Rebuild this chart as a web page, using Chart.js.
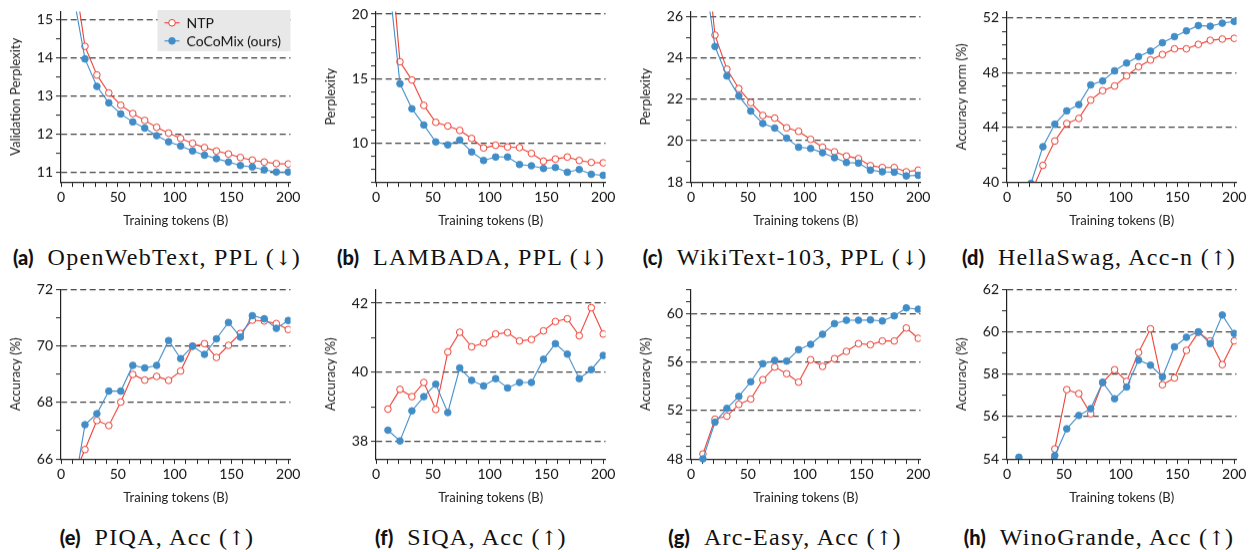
<!DOCTYPE html>
<html>
<head>
<meta charset="utf-8">
<script src="https://cdn.jsdelivr.net/npm/chart.js@4.4.1/dist/chart.umd.min.js"></script>
<style>
  body { margin: 0; background: #fff; width: 1256px; height: 552px; overflow: hidden; position: relative; }
  .plot { position: absolute; width: 302px; height: 229.5px; }
  .cap { position: absolute; width: 314px; text-align: center; line-height: 26px;
         font-family: "Liberation Serif", "DejaVu Serif", serif; font-size: 24px; letter-spacing: 1.3px;
         color: #111; white-space: nowrap; }
  .cap .arr { font-family: "DejaVu Serif", serif; font-size: 20px; letter-spacing: 0; }
  .cap .lab { font-family: Lato, sans-serif; font-weight: 900; font-size: 20px; letter-spacing: 0; margin-right: 14px; }
</style>
</head>
<body>
<script>
// checkpoints (billions of training tokens)
const tokens = [10.5, 21.1, 31.6, 42.1, 52.6, 63.2, 73.7, 84.2, 94.7, 105.3, 115.8, 126.3, 136.8, 147.4, 157.9, 168.4, 178.9, 189.5, 200];

// (a) OpenWebText validation perplexity
const owtNTP     = [16.4, 14.29, 13.54, 13.07, 12.75, 12.53, 12.35, 12.17, 12.02, 11.88, 11.75, 11.64, 11.55, 11.47, 11.38, 11.31, 11.26, 11.22, 11.21];
const owtCoCoMix = [15.7, 13.96, 13.24, 12.81, 12.52, 12.31, 12.15, 11.95, 11.79, 11.68, 11.55, 11.44, 11.35, 11.26, 11.17, 11.13, 11.06, 11.00, 11.00];
// (b) LAMBADA perplexity
const lambadaNTP     = [27.1, 16.31, 14.90, 12.93, 11.62, 11.33, 10.99, 10.37, 9.63, 9.84, 9.71, 9.66, 9.21, 8.61, 8.77, 8.93, 8.66, 8.51, 8.48];
const lambadaCoCoMix = [23.3, 14.61, 12.67, 11.41, 10.10, 9.87, 10.24, 9.32, 8.66, 8.93, 8.93, 8.35, 8.25, 8.04, 8.12, 7.75, 7.96, 7.59, 7.51];
// (c) WikiText-103 perplexity
const wikiNTP     = [30.8, 25.11, 23.46, 22.52, 21.84, 21.22, 21.09, 20.62, 20.45, 20.06, 19.68, 19.46, 19.25, 19.13, 18.79, 18.70, 18.70, 18.49, 18.57];
const wikiCoCoMix = [28.6, 24.56, 23.13, 22.16, 21.43, 20.83, 20.61, 20.12, 19.68, 19.62, 19.41, 19.17, 18.94, 18.91, 18.57, 18.49, 18.47, 18.29, 18.32];
// (d) HellaSwag normalized accuracy
const hellaNTP     = [36.5, 39.2, 41.21, 42.99, 44.27, 44.64, 45.98, 46.67, 47.01, 47.75, 48.42, 48.91, 49.31, 49.73, 49.73, 50.05, 50.35, 50.44, 50.49];
const hellaCoCoMix = [37.5, 39.9, 42.57, 44.22, 45.19, 45.65, 47.09, 47.38, 48.12, 48.69, 49.16, 49.56, 50.17, 50.62, 51.04, 51.43, 51.38, 51.60, 51.73];
// (e) PIQA accuracy
const piqaNTP     = [65.35, 66.33, 67.36, 67.18, 68.01, 68.99, 68.79, 68.92, 68.78, 69.11, 69.99, 70.08, 69.59, 70.02, 70.44, 70.91, 70.88, 70.79, 70.58];
const piqaCoCoMix = [64.7, 67.21, 67.60, 68.40, 68.40, 69.31, 69.22, 69.31, 70.19, 69.55, 69.99, 69.70, 70.25, 70.83, 70.31, 71.07, 70.96, 70.62, 70.90];
// (f) SIQA accuracy
const siqaNTP     = [38.94, 39.51, 39.30, 39.71, 38.93, 40.59, 41.16, 40.74, 40.85, 41.11, 41.15, 40.91, 40.95, 41.20, 41.47, 41.55, 41.06, 41.87, 41.11];
const siqaCoCoMix = [38.33, 38.02, 38.89, 39.30, 39.66, 38.84, 40.13, 39.77, 39.61, 39.82, 39.55, 39.71, 39.71, 40.38, 40.83, 40.53, 39.82, 40.08, 40.49];
// (g) Arc-Easy accuracy
const arcNTP     = [48.41, 51.28, 51.53, 52.50, 52.94, 54.54, 55.59, 55.03, 54.34, 56.19, 55.64, 56.28, 56.88, 57.52, 57.43, 57.74, 57.74, 58.81, 57.96];
const arcCoCoMix = [48.0, 51.03, 52.17, 53.16, 54.37, 55.86, 56.14, 56.08, 57.02, 57.46, 58.29, 59.17, 59.45, 59.45, 59.48, 59.39, 59.81, 60.47, 60.36];
// (h) WinoGrande accuracy
const winoNTP     = [53.2, 53.0, 52.85, 54.47, 57.27, 57.08, 56.13, 57.60, 58.21, 57.66, 59.02, 60.14, 57.50, 57.82, 59.12, 59.97, 59.57, 58.45, 59.57];
const winoCoCoMix = [54.08, 53.0, 52.8, 54.16, 55.42, 56.05, 56.37, 57.62, 56.84, 57.39, 58.66, 58.42, 57.87, 59.29, 59.74, 60.00, 59.44, 60.79, 59.92];

const RED = '#ec3f33';
const BLUE = '#418dc8';

const panels = [
  { tag: '(a)', caption: 'OpenWebText, PPL', arrow: '↓', ytitle: 'Validation Perplexity', ntp: owtNTP, cocomix: owtCoCoMix,
    min: 10.74, max: 15.2, minor: 0.5, major: 1, col: 0, row: 0, padTop: 11.5, legend: true },
  { tag: '(b)', caption: 'LAMBADA, PPL', arrow: '↓', ytitle: 'Perplexity', ntp: lambadaNTP, cocomix: lambadaCoCoMix,
    min: 7, max: 20.2, minor: 1, major: 5, col: 1, row: 0, padTop: 11.5 },
  { tag: '(c)', caption: 'WikiText-103, PPL', arrow: '↓', ytitle: 'Perplexity', ntp: wikiNTP, cocomix: wikiCoCoMix,
    min: 18, max: 26.25, minor: 1, major: 2, col: 2, row: 0, padTop: 11.5 },
  { tag: '(d)', caption: 'HellaSwag, Acc-n', arrow: '↑', ytitle: 'Accuracy norm (%)', ntp: hellaNTP, cocomix: hellaCoCoMix,
    min: 40, max: 52.45, minor: 1, major: 4, col: 3, row: 0, padTop: 11.5 },
  { tag: '(e)', caption: 'PIQA, Acc', arrow: '↑', ytitle: 'Accuracy (%)', ntp: piqaNTP, cocomix: piqaCoCoMix,
    min: 66, max: 72, minor: 1, major: 2, col: 0, row: 1, padTop: 12.3 },
  { tag: '(f)', caption: 'SIQA, Acc', arrow: '↑', ytitle: 'Accuracy (%)', ntp: siqaNTP, cocomix: siqaCoCoMix,
    min: 37.5, max: 42.4, minor: 1, major: 2, col: 1, row: 1, padTop: 12.3 },
  { tag: '(g)', caption: 'Arc-Easy, Acc', arrow: '↑', ytitle: 'Accuracy (%)', ntp: arcNTP, cocomix: arcCoCoMix,
    min: 48, max: 62, minor: 1, major: 4, col: 2, row: 1, padTop: 12.3, clipBottom: 4 },
  { tag: '(h)', caption: 'WinoGrande, Acc', arrow: '↑', ytitle: 'Accuracy (%)', ntp: winoNTP, cocomix: winoCoCoMix,
    min: 54, max: 62, minor: 1, major: 2, col: 3, row: 1, padTop: 12.3 }
];

const plotLeft = [0, 315, 630, 946];
const plotTop = [0, 277];
const capCenter = [157, 471, 785, 1099];
const capTop = [244, 524];

const tickFont = { family: 'Lato', size: 14 };
const titleFont = { family: 'Lato', size: 13 };
const onStep = (v, s) => Math.abs(v / s - Math.round(v / s)) < 1e-6;

// grey legend box drawn inside the plot area (first panel only)
const insideLegend = {
  id: 'insideLegend',
  afterDatasetsDraw(chart) {
    const { ctx, chartArea } = chart;
    const w = 133, h = 41;
    const x0 = chartArea.right - w, y0 = chartArea.top - 1.5;
    ctx.save();
    ctx.fillStyle = '#e8e8e8';
    ctx.fillRect(x0, y0, w, h);
    chart.data.datasets.forEach((ds, i) => {
      const y = y0 + 12.7 + i * 18;
      ctx.strokeStyle = ds.borderColor;
      ctx.lineWidth = ds.borderWidth;
      ctx.beginPath(); ctx.moveTo(x0 + 7, y); ctx.lineTo(x0 + 22, y); ctx.stroke();
      ctx.beginPath(); ctx.arc(x0 + 14.5, y, ds.pointRadius, 0, Math.PI * 2);
      ctx.fillStyle = ds.pointBackgroundColor; ctx.fill();
      ctx.lineWidth = ds.pointBorderWidth; ctx.stroke();
      ctx.fillStyle = '#111';
      ctx.font = '14px Lato';
      ctx.textBaseline = 'middle';
      ctx.fillText(ds.label, x0 + 29, y + 0.5);
    });
    ctx.restore();
  }
};

const toPoints = vals => tokens.map((x, i) => ({ x, y: vals[i] }));

panels.forEach(p => {
  const wrap = document.createElement('div');
  wrap.className = 'plot';
  wrap.style.left = plotLeft[p.col] + 'px';
  wrap.style.top = plotTop[p.row] + 'px';
  const canvas = document.createElement('canvas');
  wrap.appendChild(canvas);
  document.body.appendChild(wrap);

  const cap = document.createElement('div');
  cap.className = 'cap';
  cap.style.left = (capCenter[p.col] - 157) + 'px';
  cap.style.top = capTop[p.row] + 'px';
  cap.innerHTML = '<span class="lab">' + p.tag + '</span>' + p.caption + ' (<span class="arr">' + p.arrow + '</span>)';
  document.body.appendChild(cap);

  const clip = { left: 0, top: 0, right: 0, bottom: p.clipBottom || 0 };

  new Chart(canvas, {
    type: 'line',
    data: {
      datasets: [
        {
          label: 'NTP',
          data: toPoints(p.ntp),
          borderColor: RED,
          backgroundColor: '#fff',
          pointBackgroundColor: '#fff',
          pointBorderColor: RED,
          pointRadius: 3.3,
          pointBorderWidth: 1,
          borderWidth: 1.1,
          order: 2,
          clip: clip
        },
        {
          label: 'CoCoMix (ours)',
          data: toPoints(p.cocomix),
          borderColor: BLUE,
          backgroundColor: BLUE,
          pointBackgroundColor: BLUE,
          pointBorderColor: BLUE,
          pointRadius: 3.3,
          pointBorderWidth: 1,
          borderWidth: 1.1,
          order: 1,
          clip: clip
        }
      ]
    },
    plugins: p.legend ? [insideLegend] : [],
    options: {
      responsive: true,
      maintainAspectRatio: false,
      animation: false,
      layout: { padding: { top: p.padTop, right: 9.7, left: 0, bottom: 0 } },
      plugins: {
        legend: { display: false },
        tooltip: { enabled: false }
      },
      elements: { line: { tension: 0 } },
      scales: {
        x: {
          type: 'linear',
          min: 0,
          max: 202,
          afterBuildTicks: s => { s.ticks = s.ticks.filter(t => onStep(t.value, 10)); },
          ticks: {
            stepSize: 10, autoSkip: false, maxRotation: 0, padding: 1.5, includeBounds: false,
            color: '#111', font: tickFont,
            callback: v => onStep(v, 50) ? String(v) : ''
          },
          grid: { drawOnChartArea: false, tickLength: 5, tickColor: '#222', lineWidth: 1 },
          border: { color: '#222', width: 1.2 },
          title: {
            display: true, text: 'Training tokens (B)', color: '#222', font: titleFont,
            padding: { top: 6, bottom: 2 }
          }
        },
        y: {
          type: 'linear',
          min: p.min,
          max: p.max,
          afterBuildTicks: s => { s.ticks = s.ticks.filter(t => onStep(t.value, p.minor)); },
          afterFit: s => { s.width = 61; },
          ticks: {
            stepSize: p.minor, autoSkip: false, padding: 3, includeBounds: false,
            color: '#111', font: tickFont,
            callback: v => onStep(v, p.major) ? String(Math.round(v)) : ''
          },
          grid: {
            color: ctx => (ctx.tick && onStep(ctx.tick.value, p.major) && ctx.tick.value > p.min + 1e-6) ? '#444' : 'rgba(0,0,0,0)',
            lineWidth: 1.2,
            tickColor: '#222',
            tickWidth: 1,
            tickLength: 5
          },
          border: { color: '#222', width: 1.2, dash: [6, 3.5] },
          title: {
            display: true, text: p.ytitle, color: '#222', font: titleFont,
            padding: { top: 8, bottom: 0 }
          }
        }
      }
    }
  });
});
</script>
</body>
</html>
